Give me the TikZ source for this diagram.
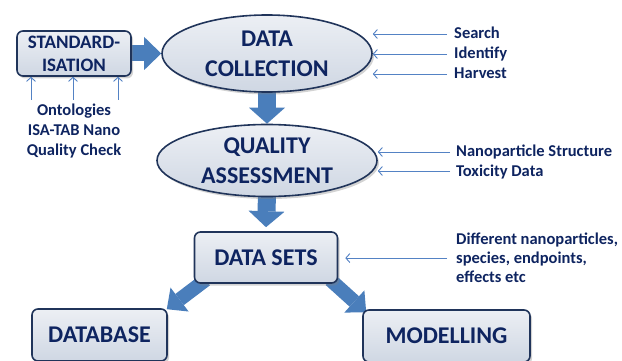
\documentclass[tikz,border=0pt]{standalone}
\usepackage{fontspec}
\setmainfont{Carlito}
\usetikzlibrary{positioning,shapes.geometric,arrows.meta,shadows,backgrounds}

\definecolor{navy}{RGB}{14,36,96}
\definecolor{edgeblue}{RGB}{32,52,90}
\definecolor{boxtop}{RGB}{236,239,244}
\definecolor{boxbot}{RGB}{207,215,227}
\definecolor{fatblue}{RGB}{74,126,187}
\definecolor{thinblue}{RGB}{84,130,196}

\begin{document}
\begin{tikzpicture}[x=1pt, y=-1pt,
  stage/.style={draw=edgeblue, line width=1.6pt, top color=boxtop, bottom color=boxbot,
    text=navy, font=\bfseries\fontsize{24}{30}\selectfont, align=center,
    drop shadow={shadow xshift=2pt, shadow yshift=-2.5pt, opacity=.35}},
  oval/.style={stage, ellipse, inner sep=0pt},
  box/.style={stage, rounded corners=6pt, inner sep=0pt},
  note/.style={text=navy, font=\bfseries\fontsize{16.5}{19}\selectfont, inner ysep=0pt},
  tag/.style={note, text height=10pt, text depth=0pt},
  fat/.style={fatblue, line width=#1},
  thin/.style={thinblue, line width=0.9pt, -{Straight Barb[length=4pt,width=9pt]}}
]
\useasboundingbox (0,0) rectangle (622,361);

% Nodes
\node (std) [box, minimum width=114pt, minimum height=45pt,
    font=\bfseries\fontsize{19}{23}\selectfont] at (74,53.5) {STANDARD-\\ISATION};
\node (coll) [oval, minimum width=210pt, minimum height=77pt] at (267,53.5) {DATA\\COLLECTION};
\node (qa) [oval, minimum width=220pt, minimum height=72pt] at (267,160.5) {QUALITY\\ASSESSMENT};
\node (sets) [box, minimum width=143pt, minimum height=51pt] at (266,257.5) {DATA SETS};
\node (db) [box, minimum width=135pt, minimum height=52pt] at (99.5,335) {DATABASE};
\node (mod) [box, minimum width=167pt, minimum height=52pt] at (446.5,336) {MODELLING};

% Side notes
\node (search) [tag, anchor=base west, inner xsep=7pt] at (447,39) {Search};
\node (identify) [tag, anchor=base west, inner xsep=7pt] at (447,59) {Identify};
\node (harvest) [tag, anchor=base west, inner xsep=7pt] at (447,79) {Harvest};
\node (nano) [tag, anchor=base west, inner xsep=6pt] at (450,157) {Nanoparticle Structure};
\node (tox) [tag, anchor=base west, inner xsep=6pt] at (450,176) {Toxicity Data};
\node (diff) [note, align=left, anchor=north west, inner xsep=9pt] at (447,233)
    {Different nanoparticles,\\species, endpoints,\\effects etc};
\node (onto) [note, align=center, anchor=north, inner xsep=0pt,
    font=\bfseries\fontsize{16.5}{20}\selectfont] at (74,104)
    {Ontologies\\ISA-TAB Nano\\Quality Check};

\coordinate (u1) at (31,100);
\coordinate (u2) at (73,100);
\coordinate (u3) at (118,100);

% Thin arrows
\draw[thin] (u1) -- (u1 |- std.south);
\draw[thin] (u2) -- (u2 |- std.south);
\draw[thin] (u3) -- (u3 |- std.south);
\draw[thin] (search.west) -- (search.west -| coll.east);
\draw[thin] (identify.west) -- (identify.west -| coll.east);
\draw[thin] (harvest.west) -- (harvest.west -| coll.east);
\draw[thin] (nano.west) -- (nano.west -| qa.east);
\draw[thin] (tox.west) -- (tox.west -| qa.east);
\draw[thin] (diff.west) -- ([xshift=7pt]sets.east |- diff.west);

% Block arrows, behind the shapes
\begin{scope}[on background layer]
\draw[fat=16pt, -{Triangle[length=17pt,width=33pt,line width=0pt]}] ([xshift=-3pt]std.east) -- (coll.west);
\draw[fat=18pt, -{Triangle[length=16pt,width=36pt,line width=0pt]}] ([yshift=2pt]coll.south) -- (qa.north);
\draw[fat=18pt, -{Triangle[length=16pt,width=36pt,line width=0pt]}] ([yshift=2pt]qa.south) -- ([yshift=4pt]sets.north);
\draw[fat=14pt, -{Triangle[length=16pt,width=30pt,line width=0pt]}] ([shift={(12,-4)}]sets.south west) -- ([shift={(-1,1)}]db.north east);
\draw[fat=14pt, -{Triangle[length=16pt,width=30pt,line width=0pt]}] ([shift={(-8,-4)}]sets.south east) -- ([shift={(4,3)}]mod.north west);
\end{scope}

\end{tikzpicture}
\end{document}
